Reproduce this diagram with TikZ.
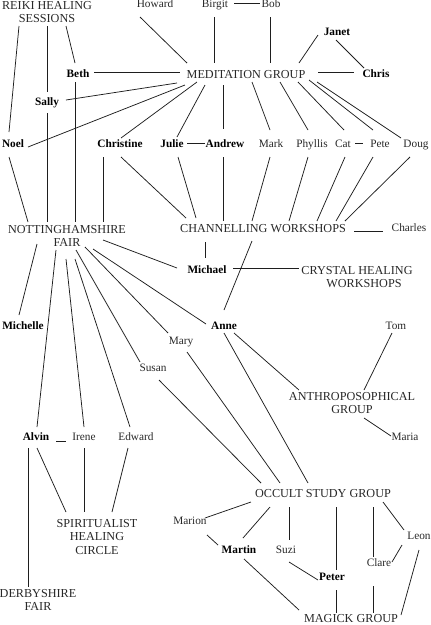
\documentclass[tikz,border=0pt]{standalone}
\usepackage{fontspec}
\setmainfont{Liberation Serif}
\definecolor{txt}{RGB}{40,40,40}
\definecolor{ln}{RGB}{30,30,30}
\newcommand\edgeL[4]{\draw[conn] ([shift={#2}]#1.center) -- ([shift={#4}]#3.center);}
\begin{document}
\begin{tikzpicture}[x=1pt,y=-1pt,
  lbl/.style={inner sep=0pt, text=txt, font=\fontsize{11.3}{13}\selectfont, text height=7.5pt, text depth=2.5pt},
  bl/.style={lbl, text=black, font=\fontsize{11.3}{13}\selectfont\bfseries},
  grp/.style={inner sep=0pt, text=txt, align=center, font=\fontsize{12.2}{13.5}\selectfont},
  conn/.style={draw=ln, line width=0.75pt}]
\useasboundingbox (0,0) rectangle (431,625);
% nodes
\node[grp] (reiki) at (47,12) {REIKI HEALING\\SESSIONS};
\node[lbl] (howard) at (155,5) {Howard};
\node[lbl] (birgit) at (215,5) {Birgit};
\node[lbl] (bob) at (271,5) {Bob};
\node[bl] (janet) at (337,33) {Janet};
\node[grp] (med) at (246,75) {MEDITATION GROUP};
\node[bl] (beth) at (78,75) {Beth};
\node[bl] (chris) at (376,75) {Chris};
\node[bl] (sally) at (47,103) {Sally};
\node[bl] (noel) at (13,145) {Noel};
\node[bl] (christine) at (120,145) {Christine};
\node[bl] (julie) at (172,145) {Julie};
\node[bl] (andrew) at (225,145) {Andrew};
\node[lbl] (mark) at (271,145) {Mark};
\node[lbl] (phyllis) at (312,145) {Phyllis};
\node[lbl] (cat) at (343,145) {Cat};
\node[lbl] (pete) at (380,145) {Pete};
\node[lbl] (doug) at (416,145) {Doug};
\node[grp] (nf) at (67,236) {NOTTINGHAMSHIRE\\FAIR};
\node[grp] (cw) at (263,229) {CHANNELLING WORKSHOPS};
\node[lbl] (charles) at (409,229) {Charles};
\node[bl] (michael) at (207,271) {Michael};
\node[grp] (crystal) at (357,277) {CRYSTAL HEALING\\\hspace*{14pt}WORKSHOPS};
\node[bl] (michelle) at (23,327) {Michelle};
\node[bl] (anne) at (224,327) {Anne};
\node[lbl] (tom) at (396,327) {Tom};
\node[lbl] (mary) at (181,342) {Mary};
\node[lbl] (susan) at (153,369) {Susan};
\node[grp] (anthro) at (352,403) {ANTHROPOSOPHICAL\\GROUP};
\node[lbl] (maria) at (405,438) {Maria};
\node[bl] (alvin) at (36,438) {Alvin};
\node[lbl] (irene) at (84,438) {Irene};
\node[lbl] (edward) at (136,438) {Edward};
\node[grp] (occult) at (323,494) {OCCULT STUDY GROUP};
\node[grp] (spirit) at (97,537) {SPIRITUALIST\\HEALING\\CIRCLE};
\node[lbl] (marion) at (190,522) {Marion};
\node[bl] (martin) at (239,551) {Martin};
\node[lbl] (suzi) at (286,551) {Suzi};
\node[lbl] (leon) at (419,537) {Leon};
\node[lbl] (clare) at (379,564) {Clare};
\node[bl] (peter) at (332,578) {Peter};
\node[grp] (magick) at (351,619) {MAGICK GROUP};
\node[grp] (derby) at (38,600) {DERBYSHIRE\\FAIR};
% edges
\edgeL{reiki}{(-28,14)}{noel}{(-4,-13)}
\edgeL{reiki}{(0,14)}{sally}{(0,-11)}
\edgeL{reiki}{(19,14)}{beth}{(-3,-12)}
\edgeL{howard}{(-15,12)}{med}{(-59,-12)}
\edgeL{birgit}{(-1,12)}{med}{(-32,-12)}
\edgeL{beth}{(16,-3)}{med}{(-66,-3)}
\edgeL{med}{(-69,8)}{sally}{(19,-3)}
\edgeL{med}{(-61,10)}{noel}{(15,2)}
\edgeL{med}{(-49,7)}{christine}{(1,-7)}
\edgeL{med}{(-41,10)}{julie}{(5,-8)}
\edgeL{julie}{(15,-2)}{andrew}{(-20,-2)}
\edgeL{beth}{(-3,7)}{nf}{(8,-14)}
\edgeL{sally}{(0,10)}{nf}{(-20,-14)}
\edgeL{birgit}{(19,-2)}{bob}{(-11,-2)}
\edgeL{bob}{(-1,12)}{med}{(24,-12)}
\edgeL{janet}{(-19,2)}{med}{(53,-12)}
\edgeL{janet}{(-1,7)}{chris}{(-12,-7)}
\edgeL{med}{(72,-3)}{chris}{(-22,-3)}
\edgeL{med}{(-23,10)}{andrew}{(-2,-16)}
\edgeL{med}{(6,7)}{mark}{(-1,-15)}
\edgeL{med}{(34,7)}{phyllis}{(-4,-15)}
\edgeL{med}{(52,7)}{cat}{(1,-15)}
\edgeL{med}{(63,5)}{pete}{(-7,-15)}
\edgeL{med}{(71,7)}{doug}{(-15,-7)}
\edgeL{cat}{(12,-2)}{pete}{(-17,-2)}
\edgeL{noel}{(-4,12)}{nf}{(-39,-14)}
\edgeL{christine}{(-17,12)}{nf}{(36,-14)}
\edgeL{christine}{(1,12)}{cw}{(-77,-11)}
\edgeL{julie}{(6,12)}{cw}{(-67,-11)}
\edgeL{cw}{(-58,13)}{michael}{(-2,-13)}
\edgeL{nf}{(36,4)}{michael}{(-30,-3)}
\edgeL{nf}{(-30,8)}{michelle}{(-4,-12)}
\edgeL{nf}{(-11,14)}{alvin}{(1,-11)}
\edgeL{nf}{(-1,23)}{irene}{(0,-11)}
\edgeL{nf}{(8,23)}{edward}{(-6,-11)}
\edgeL{nf}{(9,14)}{susan}{(-13,-7)}
\edgeL{nf}{(18,11)}{mary}{(-13,-9)}
\edgeL{nf}{(26,13)}{anne}{(-18,-3)}
\edgeL{andrew}{(-2,12)}{cw}{(-40,-8)}
\edgeL{mark}{(-1,12)}{cw}{(-11,-8)}
\edgeL{phyllis}{(-4,12)}{cw}{(26,-8)}
\edgeL{cat}{(2,12)}{cw}{(54,-8)}
\edgeL{pete}{(-7,12)}{cw}{(73,-8)}
\edgeL{doug}{(-6,12)}{cw}{(82,-8)}
\edgeL{cw}{(91,2)}{charles}{(-26,2)}
\edgeL{michael}{(26,-3)}{crystal}{(-58,-9)}
\edgeL{cw}{(-11,12)}{anne}{(0,-17)}
\edgeL{mary}{(6,10)}{occult}{(-43,-11)}
\edgeL{susan}{(6,11)}{occult}{(-62,-11)}
\edgeL{alvin}{(20,3)}{irene}{(-18,3)}
\edgeL{alvin}{(-8,10)}{derby}{(-10,-13)}
\edgeL{alvin}{(1,10)}{spirit}{(-31,-25)}
\edgeL{irene}{(0,10)}{spirit}{(-13,-25)}
\edgeL{edward}{(-8,10)}{spirit}{(15,-25)}
\edgeL{anne}{(10,6)}{anthro}{(-53,-13)}
\edgeL{anne}{(0,6)}{occult}{(-15,-11)}
\edgeL{tom}{(-4,6)}{anthro}{(12,-13)}
\edgeL{anthro}{(12,15)}{maria}{(-14,-2)}
\edgeL{occult}{(-72,8)}{marion}{(15,-4)}
\edgeL{marion}{(17,13)}{martin}{(-21,-6)}
\edgeL{occult}{(-53,13)}{martin}{(4,-13)}
\edgeL{occult}{(-34,13)}{suzi}{(3,-11)}
\edgeL{occult}{(13,13)}{peter}{(4,-8)}
\edgeL{occult}{(50,13)}{clare}{(-6,-7)}
\edgeL{clare}{(-6,22)}{magick}{(22,-6)}
\edgeL{occult}{(60,8)}{leon}{(-15,-7)}
\edgeL{leon}{(-17,8)}{clare}{(13,-2)}
\edgeL{suzi}{(3,11)}{peter}{(-14,2)}
\edgeL{peter}{(4,12)}{magick}{(-15,-6)}
\edgeL{leon}{(0,13)}{magick}{(50,-4)}
\edgeL{martin}{(5,8)}{magick}{(-52,-9)}
\end{tikzpicture}
\end{document}
